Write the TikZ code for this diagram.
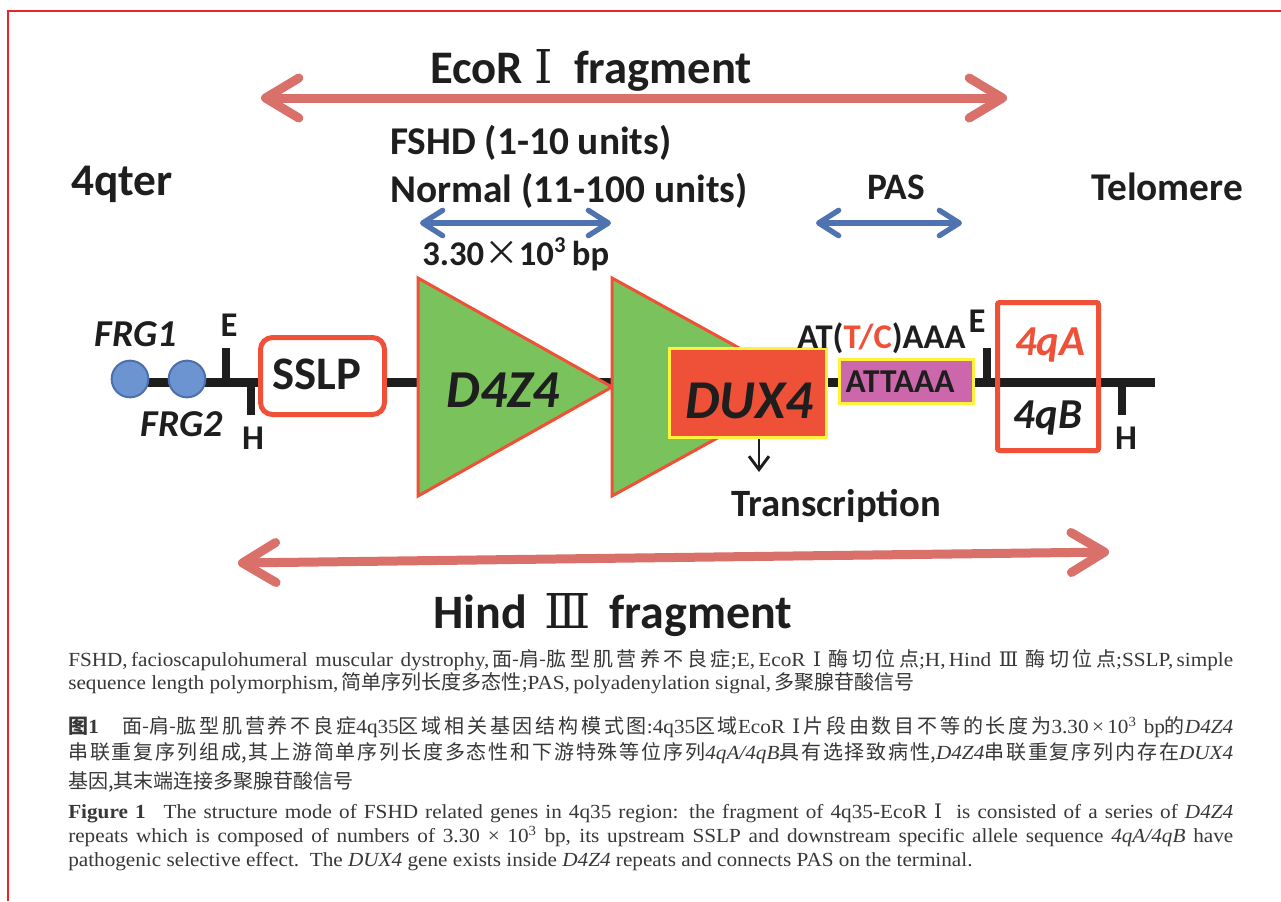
\documentclass[tikz,border=0pt]{standalone}
\usepackage{fontspec}
\setmainfont{Liberation Serif}
\newfontfamily\capser{Liberation Serif}[FakeStretch=1.06]
\newfontfamily\calib{Carlito}
\newfontfamily\cjk{Noto Sans CJK SC}
\newfontfamily\rmn{DejaVu Serif}
\usetikzlibrary{arrows.meta}
\XeTeXlinebreaklocale "zh"
\XeTeXlinebreakskip=0pt plus 3pt
\tolerance=10000 \hbadness=10000 \hfuzz=100pt
\newcommand\fsz[1]{\fontsize{#1}{#1}\selectfont}
\newcommand\capline[1]{\parbox[b]{873.75pt}{\parfillskip=0pt\noindent #1}}
\newcommand\capfit[1]{\makebox[873.75pt][s]{#1}}
\definecolor{salmon}{HTML}{D9706A}
\definecolor{bluearr}{HTML}{4F72B0}
\definecolor{redline}{HTML}{EE5038}
\definecolor{greenfill}{HTML}{7AC25C}
\definecolor{yell}{HTML}{FFF23A}
\definecolor{magen}{HTML}{CD67AC}
\definecolor{circfill}{HTML}{6B94D0}
\definecolor{circline}{HTML}{4B6FAF}
\definecolor{framered}{HTML}{EE2229}
\definecolor{ink}{HTML}{1E1E1E}
\definecolor{capink}{HTML}{383838}
\tikzset{
 bigarrow/.style={draw=salmon, line width=6.75pt, {Straight Barb[length=25pt,width=30pt,round]}-{Straight Barb[length=25pt,width=30pt,round]}},
 bluearrow/.style={draw=bluearr, line width=4pt, {Straight Barb[length=15pt,width=19pt,round]}-{Straight Barb[length=15pt,width=19pt,round]}},
 smallarr/.style={draw=ink, line width=2.2pt, -{Straight Barb[length=10pt,width=15pt]}},
 chrom/.style={draw=ink, line width=6.75pt},
 tickmark/.style={draw=ink, line width=6pt},
 frg/.style={circle, fill=circfill, draw=circline, line width=1.5pt, minimum size=27.5pt, inner sep=0pt},
 sslpbox/.style={rectangle, rounded corners=9pt, draw=redline, line width=3.75pt, fill=white, minimum width=93pt, minimum height=57.75pt, inner sep=0pt},
 tri/.style={draw=redline, fill=greenfill, line width=2.25pt, line join=miter},
 duxbox/.style={rectangle, fill=redline, draw=yell, line width=2.25pt, minimum width=117.75pt, minimum height=66.75pt, inner sep=0pt},
 pasbox/.style={rectangle, fill=magen, draw=yell, line width=2.25pt, minimum width=100.5pt, minimum height=33pt, inner sep=0pt},
 qbox/.style={rectangle, rounded corners=1.5pt, draw=redline, line width=3.75pt, minimum width=75.75pt, minimum height=111pt, inner sep=0pt},
 txt/.style={inner sep=0pt, anchor=base, text=ink},
 sz/.style={font=\calib\bfseries\fsz{#1}},
 isz/.style={font=\calib\bfseries\itshape\fsz{#1}},
 capnode/.style={inner sep=0pt, anchor=base west, text=capink, font=\capser\fsz{15}},
}
\begin{document}
\begin{tikzpicture}[x=0.75pt,y=-0.75pt]
\useasboundingbox (0,0) rectangle (1281,901);
\fill[white] (0,0) rectangle (1281,901);
% frame
\draw[framered, line width=1.6pt] (8,901) -- (8,11) -- (1281,11);

% top EcoR arrow
\coordinate (ecoL) at (261,98);
\coordinate (ecoR) at (1007,98);
\draw[bigarrow] (ecoL) -- (ecoR);
\node[txt, sz=35] (ecolbl) at (591,83) {EcoR\hspace{0.25em}{\rmn\mdseries Ⅰ}\hspace{0.45em}fragment};

\node[txt, sz=29.5, anchor=base west] (fshd) at (390,154) {FSHD (1-10 units)};
\node[txt, sz=29.5, anchor=base west] (normal) at (390,202) {Normal (11-100 units)};
\node[txt, sz=34, anchor=base west] (qter) at (71,195) {4qter};
\node[txt, sz=28] (paslbl) at (896,199) {PAS};
\node[txt, sz=29.5, anchor=base west] (telo) at (1091,200) {Telomere};

\coordinate (b1L) at (420,223);
\coordinate (b1R) at (611,223);
\draw[bluearrow] (b1L) -- (b1R);
\coordinate (b2L) at (816,223);
\coordinate (b2R) at (962,223);
\draw[bluearrow] (b2L) -- (b2R);
\node[txt, sz=26, anchor=base west] (bp) at (422,265) {3.30{\cjk\mdseries ×}10\textsuperscript{\fsz{17}3}\,bp};

% chromosome line
\coordinate (lineL) at (130,382);
\coordinate (lineR) at (1155,382);
\draw[chrom] (lineL) -- (lineR);

% FRG circles
\node[frg] (frg1c) at (130,379) {};
\node[frg] (frg2c) at (187,379) {};
\node[txt, isz=28.5] (frg1) at (136,346) {FRG1};
\node[txt, isz=28.5] (frg2) at (182,436) {FRG2};

% ticks
\coordinate (e1top) at (226,348);
\coordinate (h1bot) at (251,415);
\coordinate (e2top) at (987,348);
\coordinate (h2bot) at (1122,415);
\draw[tickmark] (e1top) -- (e1top |- lineL);
\draw[tickmark] (h1bot) -- (h1bot |- lineL);
\draw[tickmark] (e2top) -- (e2top |- lineL);
\draw[tickmark] (h2bot) -- (h2bot |- lineL);
\node[txt, sz=26] (e1) at (229,336) {E};
\node[txt, sz=26] (h1) at (253,449) {H};
\node[txt, sz=26] (e2) at (977,332) {E};
\node[txt, sz=26] (h2) at (1126,449) {H};

% SSLP
\node[sslpbox] (sslp) at (322.5,376) {};
\node[txt, sz=35] (sslplbl) at (317,389) {SSLP};

% D4Z4 triangles
\draw[tri] (418,278) -- (418,496) -- (612,387) -- cycle;
\draw[tri] (612,278) -- (612,496) -- (810,387) -- cycle;
\node[txt, isz=40] (d4z4) at (503,407) {D4Z4};

% DUX4
\node[duxbox] (dux) at (748,393) {};
\node[txt, isz=41] (duxlbl) at (749,418) {DUX4};
\coordinate (trtip) at (759,472);
\draw[smallarr] (dux.south -| trtip) -- (trtip);
\node[txt, sz=29, anchor=base west] (transc) at (731,516) {Transcription};

% PAS box
\node[pasbox] (pas) at (906.5,381.5) {};
\node[txt, sz=25] (attaaa) at (900,392) {ATTAAA};
\node[txt, sz=26, anchor=base west] (attc) at (797,348) {AT(\textcolor{redline}{T/C})AAA};

% 4qA / 4qB
\node[qbox] (qb) at (1048,376.5) {};
\node[txt, isz=32, text=redline] (qa) at (1050,355) {4qA};
\node[txt, isz=32] (qbl) at (1048,428) {4qB};

% Hind III arrow
\coordinate (hinL) at (238,563);
\coordinate (hinR) at (1109,552);
\draw[bigarrow] (hinL) -- (hinR);
\node[txt, sz=36] (hindlbl) at (613,628) {Hind\hspace{0.35em}{\rmn\mdseries Ⅲ}\hspace{0.4em}fragment};

% caption
\node[capnode] (c1) at (68,666) {\capline{FSHD,\,facioscapulohumeral muscular dystrophy,\,{\cjk 面-肩-肱型肌营养不良症};E,\,EcoR {\rmn Ⅰ} {\cjk 酶切位点};H,\,Hind {\rmn Ⅲ} {\cjk 酶切位点};SSLP,\,simple}};
\node[capnode] (c2) at (68,689) {sequence length polymorphism,\,{\cjk 简单序列长度多态性};PAS,\,polyadenylation signal,\,{\cjk 多聚腺苷酸信号}};
\node[capnode] (c3) at (68,733) {\capline{{\cjk\bfseries 图}\textbf{1}\hspace{1.2em}{\cjk 面-肩-肱型肌营养不良症}4q35{\cjk 区域相关基因结构模式图}:4q35{\cjk 区域}EcoR {\rmn Ⅰ}\,{\cjk 片段由数目不等的长度为}3.30\,×\,10\textsuperscript{3} bp{\cjk 的}\textit{D4Z4}}};
\node[capnode] (c4) at (68,759) {\capline{{\cjk 串联重复序列组成,其上游简单序列长度多态性和下游特殊等位序列}\mbox{\textit{4qA/4qB}}{\cjk 具有选择致病性,}\textit{D4Z4}{\cjk 串联重复序列内存在}\textit{DUX4}}};
\node[capnode] (c5) at (68,788) {{\cjk 基因,其末端连接多聚腺苷酸信号}};
\node[capnode] (c6) at (68,818) {\capfit{\textbf{Figure 1}\hspace{0.9em}The structure mode of FSHD related genes in 4q35 region: the fragment of 4q35-EcoR {\rmn Ⅰ}\ \ is consisted of a series of \textit{D4Z4}}};
\node[capnode] (c7) at (68,842) {\capfit{repeats which is composed of numbers of 3.30 × 10\textsuperscript{3} bp, its upstream SSLP and downstream specific allele sequence \mbox{\textit{4qA/4qB}} have}};
\node[capnode] (c8) at (68,866) {pathogenic selective effect.\ \ The \textit{DUX4} gene exists inside \textit{D4Z4} repeats and connects PAS on the terminal.};
\end{tikzpicture}
\end{document}
